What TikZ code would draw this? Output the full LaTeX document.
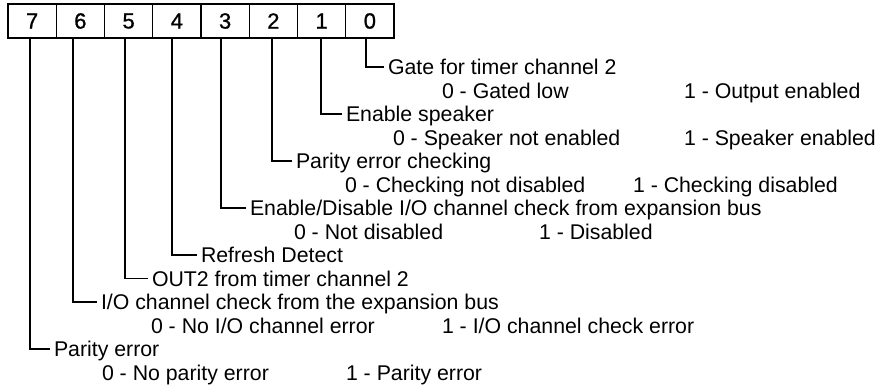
\documentclass[tikz,border=0pt]{standalone}
\usepackage{fontspec}
\setmainfont{Liberation Sans}
\begin{document}
\begin{tikzpicture}[x=1pt,y=-1pt,
  line width=1.1pt,
  cell/.style={draw,minimum width=48.25pt,minimum height=34pt,inner sep=0pt,outer sep=0pt,anchor=north west,font=\fontsize{22}{24}\selectfont\addfontfeatures{FakeBold=1}},
  lbl/.style={inner sep=0pt,outer sep=0pt,anchor=west,text height=15pt,text depth=0pt,font=\fontsize{21.3}{24}\selectfont},
  lead/.style={line width=1.1pt}]
\useasboundingbox (0,0) rectangle (880,388);
% register cells
\foreach \b [count=\i from 0] in {7,6,5,4,3,2,1,0}
  \node[cell] (b\b) at ({8+48.25*\i},4) {\b};
% rows: y = 67 + 23.5 k
\node[lbl] (t0) at (388,67) {Gate for timer channel 2};
\node[lbl] (v0a) at (442,90.5) {0 - Gated low};
\node[lbl] (v0b) at (684,90.5) {1 - Output enabled};
\node[lbl] (t1) at (346,114) {Enable speaker};
\node[lbl] (v1a) at (393,137.5) {0 - Speaker not enabled};
\node[lbl] (v1b) at (684,137.5) {1 - Speaker enabled};
\node[lbl] (t2) at (296,161) {Parity error checking};
\node[lbl] (v2a) at (345,184.5) {0 - Checking not disabled};
\node[lbl] (v2b) at (633,184.5) {1 - Checking disabled};
\node[lbl] (t3) at (250,208) {Enable/Disable I/O channel check from expansion bus};
\node[lbl] (v3a) at (294,231.5) {0 - Not disabled};
\node[lbl] (v3b) at (539,231.5) {1 - Disabled};
\node[lbl] (t4) at (201,255) {Refresh Detect};
\node[lbl] (t5) at (152,278.5) {OUT2 from timer channel 2};
\node[lbl] (t6) at (101,302) {I/O channel check from the expansion bus};
\node[lbl] (v6a) at (151,325.5) {0 - No I/O channel error};
\node[lbl] (v6b) at (442,325.5) {1 - I/O channel check error};
\node[lbl] (t7) at (54,349) {Parity error};
\node[lbl] (v7a) at (102,372.5) {0 - No parity error};
\node[lbl] (v7b) at (346,372.5) {1 - Parity error};
% leader start points on the bottom edge of the register
\coordinate (c0) at (366,38);
\coordinate (c1) at (321,38);
\coordinate (c2) at (272,38);
\coordinate (c3) at (221,38);
\coordinate (c4) at (172,38);
\coordinate (c5) at (125,38);
\coordinate (c6) at (73,38);
\coordinate (c7) at (30,38);
\foreach \k in {0,...,7}
  \draw[lead] (c\k) |- ([xshift=-4pt]t\k.west);
\end{tikzpicture}
\end{document}
